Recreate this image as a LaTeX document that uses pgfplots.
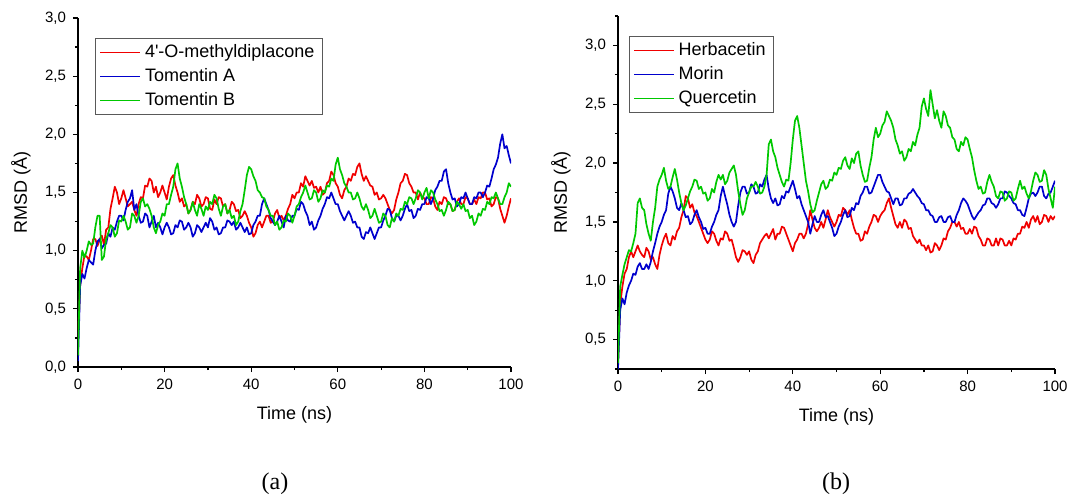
\documentclass[border=0pt]{standalone}
\usepackage{fontspec}
\setmainfont{Liberation Sans}
\newfontfamily\capfont{Liberation Serif}
\usepackage{pgfplots}
\usepackage{pgfplotstable}
\pgfplotsset{compat=1.18}

\definecolor{cred}{RGB}{240,0,0}
\definecolor{cblue}{RGB}{0,0,205}
\definecolor{cgreen}{RGB}{0,200,0}

% panel (a): t, 4'-O-methyldiplacone, Tomentin A, Tomentin B
\pgfplotstableread{
t r b g
0 0.25 0.05 0.10
0.5 0.70 0.70 0.85
1 0.85 0.80 1.00
1.5 0.96 0.76 0.94
2 0.95 0.85 1.00
2.5 0.92 0.92 1.08
3 1.00 0.90 1.05
3.5 1.10 0.88 1.06
4 1.10 1.00 1.20
4.5 1.04 1.08 1.30
5 1.10 1.10 1.30
5.5 1.13 1.02 0.92
6 1.05 1.05 0.95
6.5 1.18 1.06 1.10
7 1.20 1.15 1.15
7.5 1.36 1.12 1.22
8 1.45 1.20 1.20
8.5 1.55 1.18 1.12
9 1.50 1.25 1.15
9.5 1.40 1.30 1.26
10 1.45 1.30 1.25
10.5 1.52 1.26 1.30
11 1.45 1.35 1.25
11.5 1.38 1.42 1.18
12 1.40 1.45 1.20
12.5 1.42 1.52 1.32
13 1.35 1.35 1.30
13.5 1.30 1.40 1.24
14 1.40 1.30 1.30
14.5 1.46 1.24 1.42
15 1.45 1.25 1.45
15.5 1.56 1.32 1.38
16 1.55 1.30 1.40
16.5 1.62 1.20 1.36
17 1.60 1.25 1.30
17.5 1.50 1.30 1.20
18 1.55 1.20 1.15
18.5 1.46 1.24 1.22
19 1.50 1.20 1.25
19.5 1.56 1.14 1.32
20 1.50 1.20 1.30
20.5 1.44 1.24 1.40
21 1.55 1.20 1.40
21.5 1.62 1.14 1.48
22 1.65 1.15 1.55
22.5 1.56 1.22 1.70
23 1.50 1.20 1.75
23.5 1.42 1.26 1.62
24 1.45 1.25 1.55
24.5 1.38 1.18 1.46
25 1.40 1.20 1.40
25.5 1.32 1.24 1.32
26 1.35 1.20 1.35
26.5 1.42 1.12 1.42
27 1.40 1.15 1.35
27.5 1.48 1.22 1.30
28 1.45 1.20 1.40
28.5 1.38 1.16 1.36
29 1.40 1.20 1.30
29.5 1.46 1.24 1.38
30 1.45 1.20 1.35
30.5 1.36 1.28 1.42
31 1.35 1.25 1.40
31.5 1.44 1.18 1.48
32 1.40 1.20 1.45
32.5 1.46 1.14 1.36
33 1.45 1.15 1.30
33.5 1.38 1.20 1.38
34 1.40 1.20 1.40
34.5 1.32 1.26 1.32
35 1.35 1.25 1.35
35.5 1.42 1.22 1.28
36 1.40 1.25 1.30
36.5 1.34 1.18 1.22
37 1.35 1.20 1.25
37.5 1.28 1.24 1.34
38 1.30 1.20 1.40
38.5 1.34 1.16 1.52
39 1.30 1.20 1.65
39.5 1.24 1.14 1.72
40 1.20 1.15 1.70
40.5 1.12 1.22 1.64
41 1.15 1.25 1.60
41.5 1.22 1.30 1.52
42 1.25 1.30 1.50
42.5 1.20 1.40 1.46
43 1.25 1.45 1.45
43.5 1.30 1.40 1.38
44 1.30 1.35 1.35
44.5 1.24 1.28 1.30
45 1.25 1.25 1.30
45.5 1.32 1.22 1.22
46 1.35 1.25 1.25
46.5 1.28 1.30 1.18
47 1.30 1.25 1.20
47.5 1.26 1.20 1.26
48 1.30 1.30 1.25
48.5 1.36 1.26 1.32
49 1.40 1.25 1.30
49.5 1.48 1.30 1.24
50 1.45 1.30 1.30
50.5 1.50 1.36 1.38
51 1.50 1.35 1.40
51.5 1.58 1.42 1.46
52 1.55 1.40 1.50
52.5 1.64 1.34 1.56
53 1.60 1.30 1.50
53.5 1.56 1.22 1.44
54 1.60 1.25 1.45
54.5 1.54 1.18 1.52
55 1.55 1.20 1.50
55.5 1.50 1.26 1.42
56 1.55 1.30 1.45
56.5 1.48 1.36 1.52
57 1.50 1.40 1.50
57.5 1.58 1.46 1.56
58 1.60 1.45 1.55
58.5 1.68 1.50 1.62
59 1.65 1.45 1.60
59.5 1.58 1.40 1.74
60 1.55 1.40 1.80
60.5 1.48 1.34 1.70
61 1.45 1.30 1.65
61.5 1.52 1.26 1.58
62 1.55 1.30 1.55
62.5 1.62 1.34 1.50
63 1.60 1.30 1.50
63.5 1.66 1.24 1.44
64 1.65 1.25 1.45
64.5 1.72 1.20 1.50
65 1.75 1.20 1.45
65.5 1.66 1.12 1.38
66 1.60 1.10 1.35
66.5 1.64 1.16 1.40
67 1.60 1.15 1.35
67.5 1.56 1.20 1.28
68 1.55 1.15 1.30
68.5 1.48 1.10 1.36
69 1.50 1.15 1.30
69.5 1.44 1.20 1.24
70 1.45 1.20 1.25
70.5 1.48 1.26 1.32
71 1.45 1.30 1.30
71.5 1.40 1.36 1.22
72 1.35 1.35 1.20
72.5 1.32 1.28 1.28
73 1.35 1.25 1.25
73.5 1.44 1.30 1.32
74 1.50 1.30 1.30
74.5 1.58 1.26 1.36
75 1.60 1.30 1.35
75.5 1.66 1.36 1.42
76 1.65 1.40 1.40
76.5 1.58 1.34 1.46
77 1.55 1.35 1.45
77.5 1.50 1.28 1.40
78 1.50 1.30 1.45
78.5 1.44 1.36 1.52
79 1.50 1.35 1.50
79.5 1.46 1.40 1.44
80 1.45 1.40 1.50
80.5 1.40 1.46 1.54
81 1.40 1.45 1.45
81.5 1.46 1.40 1.52
82 1.45 1.45 1.50
82.5 1.38 1.52 1.44
83 1.35 1.55 1.40
83.5 1.42 1.60 1.34
84 1.40 1.60 1.35
84.5 1.46 1.68 1.30
85 1.45 1.70 1.35
85.5 1.40 1.58 1.42
86 1.40 1.50 1.40
86.5 1.34 1.44 1.34
87 1.35 1.45 1.35
87.5 1.42 1.38 1.42
88 1.45 1.40 1.40
88.5 1.40 1.46 1.36
89 1.40 1.45 1.40
89.5 1.46 1.50 1.34
90 1.45 1.45 1.35
90.5 1.40 1.40 1.28
91 1.40 1.40 1.30
91.5 1.44 1.46 1.22
92 1.40 1.45 1.25
92.5 1.46 1.50 1.32
93 1.45 1.50 1.30
93.5 1.50 1.46 1.36
94 1.50 1.50 1.35
94.5 1.44 1.56 1.42
95 1.45 1.55 1.40
95.5 1.38 1.62 1.46
96 1.40 1.70 1.45
96.5 1.46 1.74 1.50
97 1.45 1.80 1.45
97.5 1.36 1.92 1.40
98 1.30 2.00 1.40
98.5 1.24 1.88 1.46
99 1.30 1.90 1.50
99.5 1.38 1.82 1.58
100 1.45 1.75 1.55
}\tableA

% panel (b): t, Herbacetin, Morin, Quercetin
\pgfplotstableread{
t r b g
0 0.30 0.25 0.30
0.5 0.80 0.75 0.95
1 0.95 0.85 1.05
1.5 1.06 0.80 1.14
2 1.10 0.90 1.20
2.5 1.20 0.96 1.26
3 1.25 1.00 1.25
3.5 1.20 1.06 1.32
4 1.25 1.05 1.40
4.5 1.30 1.12 1.66
5 1.25 1.15 1.70
5.5 1.22 1.10 1.62
6 1.20 1.10 1.60
6.5 1.28 1.14 1.48
7 1.25 1.10 1.40
7.5 1.18 1.16 1.34
8 1.20 1.25 1.50
8.5 1.14 1.32 1.62
9 1.10 1.40 1.80
9.5 1.22 1.46 1.86
10 1.30 1.50 1.90
10.5 1.36 1.56 1.96
11 1.40 1.60 1.85
11.5 1.32 1.74 1.78
12 1.30 1.80 1.80
12.5 1.38 1.76 1.88
13 1.35 1.70 1.95
13.5 1.42 1.62 1.86
14 1.45 1.60 1.75
14.5 1.54 1.66 1.66
15 1.60 1.60 1.60
15.5 1.72 1.54 1.64
16 1.70 1.55 1.70
16.5 1.62 1.48 1.76
17 1.65 1.50 1.80
17.5 1.58 1.56 1.86
18 1.55 1.60 1.85
18.5 1.50 1.54 1.78
19 1.45 1.50 1.80
19.5 1.40 1.44 1.74
20 1.35 1.45 1.75
20.5 1.32 1.40 1.68
21 1.35 1.40 1.70
21.5 1.42 1.46 1.78
22 1.40 1.50 1.75
22.5 1.34 1.56 1.84
23 1.30 1.60 1.90
23.5 1.36 1.72 1.86
24 1.35 1.80 1.90
24.5 1.42 1.72 1.82
25 1.40 1.65 1.85
25.5 1.34 1.56 1.92
26 1.35 1.50 1.95
26.5 1.28 1.46 1.98
27 1.20 1.50 1.90
27.5 1.16 1.64 1.76
28 1.20 1.75 1.65
28.5 1.26 1.80 1.56
29 1.25 1.80 1.60
29.5 1.22 1.74 1.70
30 1.25 1.75 1.75
30.5 1.18 1.82 1.80
31 1.15 1.80 1.80
31.5 1.22 1.74 1.84
32 1.25 1.75 1.80
32.5 1.32 1.82 1.74
33 1.35 1.80 1.75
33.5 1.38 1.86 1.80
34 1.40 1.90 1.90
34.5 1.36 1.78 2.16
35 1.40 1.70 2.20
35.5 1.44 1.66 2.10
36 1.35 1.70 2.05
36.5 1.40 1.64 1.96
37 1.40 1.65 1.90
37.5 1.46 1.72 1.84
38 1.45 1.70 1.80
38.5 1.40 1.76 1.86
39 1.35 1.75 1.85
39.5 1.30 1.80 2.00
40 1.25 1.85 2.20
40.5 1.32 1.78 2.36
41 1.35 1.70 2.40
41.5 1.40 1.72 2.30
42 1.40 1.65 2.15
42.5 1.36 1.60 2.00
43 1.40 1.55 1.85
43.5 1.48 1.50 1.76
44 1.60 1.40 1.65
44.5 1.52 1.48 1.58
45 1.45 1.55 1.60
45.5 1.42 1.50 1.68
46 1.45 1.50 1.75
46.5 1.50 1.56 1.82
47 1.45 1.60 1.85
47.5 1.52 1.54 1.78
48 1.60 1.55 1.80
48.5 1.54 1.50 1.86
49 1.50 1.45 1.85
49.5 1.46 1.38 1.92
50 1.50 1.40 1.90
50.5 1.56 1.46 1.96
51 1.55 1.50 1.95
51.5 1.62 1.56 2.02
52 1.60 1.60 2.05
52.5 1.56 1.54 1.98
53 1.60 1.55 1.95
53.5 1.52 1.62 2.04
54 1.45 1.60 2.00
54.5 1.40 1.66 2.08
55 1.40 1.65 2.10
55.5 1.34 1.72 1.98
56 1.35 1.75 1.90
56.5 1.42 1.80 1.84
57 1.40 1.80 1.85
57.5 1.46 1.74 1.96
58 1.50 1.75 2.05
58.5 1.56 1.80 2.20
59 1.55 1.85 2.30
59.5 1.50 1.90 2.22
60 1.55 1.90 2.25
60.5 1.58 1.84 2.32
61 1.60 1.80 2.35
61.5 1.66 1.76 2.44
62 1.70 1.75 2.40
62.5 1.62 1.70 2.36
63 1.55 1.65 2.30
63.5 1.48 1.70 2.20
64 1.45 1.70 2.15
64.5 1.50 1.64 2.08
65 1.45 1.65 2.10
65.5 1.52 1.70 2.02
66 1.50 1.70 2.05
66.5 1.44 1.74 2.12
67 1.45 1.75 2.10
67.5 1.38 1.78 2.18
68 1.35 1.75 2.15
68.5 1.32 1.72 2.24
69 1.35 1.70 2.30
69.5 1.30 1.66 2.48
70 1.30 1.65 2.55
70.5 1.26 1.60 2.46
71 1.30 1.60 2.40
71.5 1.24 1.56 2.62
72 1.25 1.55 2.50
72.5 1.32 1.50 2.38
73 1.30 1.50 2.45
73.5 1.26 1.54 2.36
74 1.30 1.55 2.30
74.5 1.36 1.50 2.44
75 1.35 1.50 2.40
75.5 1.42 1.54 2.32
76 1.45 1.55 2.30
76.5 1.50 1.50 2.22
77 1.50 1.50 2.20
77.5 1.46 1.56 2.12
78 1.50 1.60 2.10
78.5 1.44 1.66 2.18
79 1.45 1.70 2.15
79.5 1.40 1.68 2.22
80 1.40 1.65 2.20
80.5 1.44 1.60 2.12
81 1.40 1.55 2.05
81.5 1.46 1.52 1.94
82 1.45 1.55 1.85
82.5 1.38 1.58 1.78
83 1.35 1.60 1.80
83.5 1.30 1.64 1.74
84 1.30 1.65 1.75
84.5 1.36 1.70 1.84
85 1.35 1.70 1.90
85.5 1.30 1.66 1.84
86 1.30 1.65 1.80
86.5 1.36 1.62 1.72
87 1.30 1.65 1.70
87.5 1.36 1.70 1.76
88 1.35 1.70 1.75
88.5 1.30 1.76 1.68
89 1.30 1.75 1.70
89.5 1.34 1.72 1.76
90 1.30 1.70 1.75
90.5 1.36 1.66 1.68
91 1.35 1.65 1.70
91.5 1.40 1.60 1.78
92 1.40 1.60 1.85
92.5 1.46 1.56 1.78
93 1.45 1.55 1.80
93.5 1.50 1.62 1.74
94 1.45 1.70 1.70
94.5 1.52 1.74 1.76
95 1.55 1.75 1.85
95.5 1.50 1.72 1.92
96 1.55 1.75 1.90
96.5 1.48 1.80 1.84
97 1.50 1.80 1.85
97.5 1.56 1.72 1.94
98 1.55 1.70 1.90
98.5 1.50 1.74 1.78
99 1.55 1.75 1.70
99.5 1.52 1.80 1.62
100 1.55 1.85 1.80
}\tableB

\pgfplotsset{rmsd/.style={
    scale only axis,
    axis lines=left,
    axis line style={-, line width=0.7pt},
    tick align=outside,
    major tick length=2.5pt,
    minor tick length=1.6pt,
    tick style={black, line width=0.6pt},
    xmin=0, xmax=100,
    xtick={0,20,...,100},
    minor x tick num=1,
    /pgf/number format/assume math mode=true,
    ticklabel style={font=\fontsize{7.5}{8.5}\selectfont},
    yticklabel style={/pgf/number format/.cd, fixed, fixed zerofill, precision=1, use comma},
    xlabel={Time (ns)},
    ylabel={RMSD (Å)},
    label style={font=\fontsize{9}{10}\selectfont},
    x label style={at={([yshift=-24pt]axis description cs:0.5,0)}, anchor=center},
    y label style={at={([xshift=-28.5pt]axis description cs:0,0.5)}, anchor=center},
    legend cell align=left,
    legend style={font=\fontsize{9}{11}\selectfont, draw=black!65, line width=0.5pt,
        anchor=north west, inner xsep=2pt, inner ysep=1pt, row sep=0pt},
    legend image code/.code={\draw[#1, line width=0.6pt] (0pt,0pt) -- (20pt,0pt);},
    every axis plot/.append style={line width=0.85pt, line join=round},
}}

\begin{document}
\begin{tikzpicture}
\path[use as bounding box] (-39pt,-63.5pt) rectangle (495.5pt,183.5pt);

\begin{axis}[rmsd,
    at={(0pt,0pt)}, anchor=south west,
    width=216.5pt, height=174.5pt,
    ymin=0, ymax=3,
    ytick={0,0.5,...,3},
    minor y tick num=1,
    legend style={at={(0.04,0.943)}},
]
\addplot[cred] table[x=t, y=r] {\tableA};
\addplot[cblue] table[x=t, y=b] {\tableA};
\addplot[cgreen] table[x=t, y=g] {\tableA};
\legend{4\textquotesingle-O-methyldiplacone, Tomentin A, Tomentin B}
\end{axis}

\begin{axis}[rmsd,
    at={(270pt,-1pt)}, anchor=south west,
    width=218.5pt, height=176.5pt,
    ymin=0.25, ymax=3.25,
    ytick={0.5,1,...,3},
    minor ytick={0.25,0.75,...,3.25},
    legend style={at={(0.025,0.943)}},
]
\addplot[cred] table[x=t, y=r] {\tableB};
\addplot[cblue] table[x=t, y=b] {\tableB};
\addplot[cgreen] table[x=t, y=g] {\tableB};
\legend{Herbacetin, Morin, Quercetin}
\end{axis}

\node[font=\capfont\fontsize{12}{14}\selectfont] at (98.5pt,-58.5pt) {(a)};
\node[font=\capfont\fontsize{12}{14}\selectfont] at (379pt,-58.5pt) {(b)};
\end{tikzpicture}
\end{document}
